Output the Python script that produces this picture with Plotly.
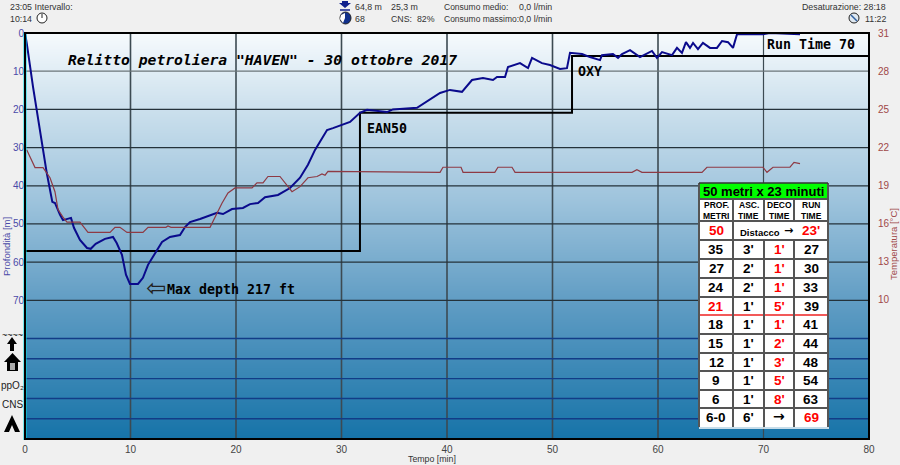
import plotly.graph_objects as go

# Profilo di profondita' (tempo in minuti, profondita' in metri)
depth_time = [0, 0.16, 0.76, 1.42, 1.58, 2.06, 2.59, 2.84, 3.32, 3.6, 4.36, 4.64, 5.21, 5.88, 6.23, 6.7, 7.58, 8.34,
              8.69, 9.19, 9.57, 9.95, 10.71, 11.18, 11.66, 12.32, 12.99, 13.74, 14.69, 15.17, 15.64, 16.59, 18.2,
              18.77, 19.62, 20.66, 21.33, 22.09, 22.75, 23.98, 25.12, 26.07, 26.82, 27.49, 28.63, 29.19, 30.81,
              31.75, 32.42, 34.31, 34.88, 37.16, 38.39, 39.34, 40.28, 41.42, 42.37, 43.41, 44.36, 44.74, 45.5,
              45.78, 46.92, 47.68, 48.06, 49, 49.76, 50.71, 51.37, 51.66, 52.8, 53.55, 54.5, 54.69, 55.73, 56.21,
              56.59, 57.35, 58.29, 59.43, 59.9, 60.38, 61.33, 61.8, 62.27, 62.65, 63.03, 63.32, 63.79, 64.26,
              64.93, 65.59, 66.07, 66.64, 67.11, 67.49, 68.72, 69.95, 70.62, 73.46]
depth_m = [0, 2.6, 14.1, 25.4, 28.8, 36.6, 44.2, 44.5, 47.6, 49, 48.4, 51, 54.2, 56.3, 56.5, 55.2, 53.9, 53.4,
           55, 58.1, 63.3, 65.7, 65.7, 64.1, 60.7, 57.6, 54.7, 53.4, 52.9, 50.8, 49.5, 48.7, 47.1,
           47.4, 46.1, 45.8, 44.8, 44.5, 43, 42.4, 40.6, 37.9, 34.5, 30.6, 25.4, 24.9, 23.3,
           20.9, 20.1, 20.7, 20, 19.6, 17.5, 15.7, 14.9, 15.4, 12.3, 11.8, 12.3, 11.5, 11.5,
           8.9, 7.9, 9.2, 6.5, 7.9, 8.4, 9.4, 9.2, 5.2, 5.5, 6.3, 7.1, 5.8, 5.5, 6.5,
           5.5, 4.5, 6.3, 4.7, 6.5, 5, 5.8, 3.9, 5.2, 2.4, 3.9, 2.6, 4.2, 2.6,
           3.9, 3.9, 2.1, 2.4, 3.9, 0.3, 0.3, 0.3, 0, 0.3]

# Temperatura
temp_time = [0.16, 0.47, 0.95, 1.71, 2.37, 2.84, 3.13, 3.6, 3.98, 5.21, 5.97, 8.06, 8.53, 9, 9.67, 11.18, 11.66,
             13.36, 13.55, 13.84, 17.54, 18.67, 19.24, 19.91, 21.52, 21.99, 22.56, 23.03, 24.17, 25.31, 26.07,
             26.82, 27.68, 28.15, 28.44, 28.72, 39.34, 39.62, 41.33, 41.52, 44.53, 44.83, 46.16, 46.45, 57.54,
             58, 58.48, 64.17, 64.64, 69.95, 70.33, 70.9, 72.51, 72.89, 73.46]
temp_c = [21.8, 21.3, 20.4, 20.4, 19.6, 18.5, 17.1, 16.5, 16.1, 16.1, 15.3, 15.3, 15.7, 15.7, 15.3, 15.3, 15.7,
          15.7, 15.8, 15.7, 15.7, 17.6, 18.4, 18.8, 18.8, 19.2, 19.2, 19.7, 19.7, 18.5, 18.9,
          19.6, 19.7, 19.9, 19.8, 20.1, 20.03, 20.43, 20.43, 20.03, 20.03, 20.43, 20.43, 20.03, 20.03,
          20.24, 20.03, 20.03, 20.43, 20.43, 20.03, 20.43, 20.43, 20.81, 20.71]

# Profilo pianificato (linea nera a gradini)
plan_time = [0, 31.75, 31.75, 51.85, 51.85, 80]
plan_depth = [57.1, 57.1, 20.9, 20.9, 6, 6]

x_ticks = [0, 10, 20, 30, 40, 50, 60, 70, 80]
depth_ticks = [0, 10, 20, 30, 40, 50, 60, 70]
temp_ticks = [31, 28, 25, 22, 19, 16, 13, 10]
panel_lines = [80, 85.3, 90.5, 95.7, 101]

# Sfondo sfumato
bg_depth = [0, 18, 44, 70, 106.3]
bg_colors = ["#f6fafd", "#cfe2ee", "#9dc3dc", "#619dc4", "#1673a8"]

# Tabella deco
table_title = "50 metri x 23 minuti"
table_head1 = ["PROF.", "ASC.", "DECO", "RUN"]
table_head2 = ["METRI", "TIME", "TIME", "TIME"]
table_depth = ["35", "27", "24", "21", "18", "15", "12", "9", "6", "6-0"]
table_asc = ["3'", "2'", "2'", "1'", "1'", "1'", "1'", "1'", "1'", "6'"]
table_deco = ["1'", "1'", "1'", "5'", "1'", "2'", "3'", "5'", "8'", "→"]
table_run = ["27", "30", "33", "39", "41", "44", "48", "54", "63", "69"]


# pixel della finestra -> coordinate paper
def px(x):
    return (x - 25) / 844


def py(y):
    return 1 - (y - 33) / 406


def label(x, y, text, size=8.8, color="#333333", family="Liberation Sans", anchor="left", **kw):
    # le annotazioni hanno 2px di padding
    shift = {"left": -2, "right": 2, "center": 0}[anchor]
    return dict(xref="paper", yref="paper", x=px(x + shift), y=py(y + 1), text=text, showarrow=False, xanchor=anchor,
                yanchor="middle", font=dict(family=family, size=size, color=color), **kw)


def line(x0, y0, x1, y1, color="black", width=1):
    return dict(type="line", xref="paper", yref="paper", x0=px(x0), y0=py(y0), x1=px(x1), y1=py(y1),
                line=dict(color=color, width=width))


def rect(x0, y0, x1, y1, fill, color=None, width=0):
    return dict(type="rect", xref="paper", yref="paper", x0=px(x0), y0=py(y0), x1=px(x1), y1=py(y1),
                fillcolor=fill, line=dict(color=color, width=width))


def path(d, fill, color="black", width=0):
    # d: lista di punti in pixel
    s = "M" + " L".join(f"{px(a):.5f},{py(b):.5f}" for a, b in d) + " Z"
    return dict(type="path", xref="paper", yref="paper", path=s, fillcolor=fill, line=dict(color=color, width=width))


fig = go.Figure()

stops = [(d / bg_depth[-1], c) for d, c in zip(bg_depth, bg_colors)]
fig.add_trace(go.Heatmap(x=[0, 80], y=bg_depth, z=[[d, d] for d in bg_depth], colorscale=stops, zsmooth="best",
                         showscale=False, hoverinfo="skip"))

# griglia sopra lo sfondo, sotto le curve
for t in x_ticks[1:-1]:
    fig.add_trace(go.Scatter(x=[t, t], y=[0, bg_depth[-1]], mode="lines", hoverinfo="skip",
                             line=dict(color="#3c4a52", width=1.6 if t < 70 else 1.2)))
for d in depth_ticks[1:]:
    fig.add_trace(go.Scatter(x=[0, 80], y=[d, d], mode="lines", hoverinfo="skip",
                             line=dict(color="#6b7478" if d == 10 else "#24323a", width=1.2)))
for d in panel_lines:
    fig.add_trace(go.Scatter(x=[0, 80], y=[d, d], mode="lines", hoverinfo="skip",
                             line=dict(color="#123c86", width=1.4)))

fig.add_trace(go.Scatter(x=plan_time, y=plan_depth, mode="lines", line=dict(color="black", width=2)))
fig.add_trace(go.Scatter(x=temp_time, y=temp_c, mode="lines", yaxis="y2", line=dict(color="#8e3a44", width=1.2)))
fig.add_trace(go.Scatter(x=depth_time, y=depth_m, mode="lines", line=dict(color="#0a0a8c", width=2)))

shapes = [
    line(25, 33, 25, 440, "#00e0e8", 3),
    rect(25, 33, 869, 439, "rgba(0,0,0,0)", "black", 2),
]

# icone in alto
shapes += [
    dict(type="circle", xref="paper", yref="paper", x0=px(37), y0=py(13), x1=px(47), y1=py(23),
         fillcolor="white", line=dict(color="#222222", width=1)),
    line(42, 18, 42, 14, "#222222", 1),
    path([(342, 1), (348, 1), (348, 3), (351, 3), (345, 8), (339, 3), (342, 3)], "#10208c"),
    line(340, 10, 350, 10, "#10208c", 1.5),
    dict(type="circle", xref="paper", yref="paper", x0=px(340), y0=py(12), x1=px(351), y1=py(24),
         fillcolor="#10308c", line=dict(color="#222222", width=1)),
    path([(345, 18), (345, 13), (341, 15), (340, 19), (343, 23)], "white"),
    dict(type="circle", xref="paper", yref="paper", x0=px(849), y0=py(13), x1=px(859), y1=py(23),
         fillcolor="#dfe8f0", line=dict(color="#222222", width=1)),
    line(851, 15, 857, 21, "#3060a0", 1.5),
]

# icone in basso a sinistra
shapes += [
    path([(7, 344), (12, 337), (17, 344)], "black"),
    rect(10, 344, 14, 351, "black"),
    path([(4, 362), (12.5, 353), (21, 362)], "black"),
    rect(7, 362, 18, 371, "black"),
    rect(10, 363, 15, 370, "#aaaaaa"),
    path([(4, 432), (12, 415), (20, 432), (15, 432), (12, 425), (9, 432)], "black"),
]

annotations = [
    label(10, 6, "23:05 Intervallo:"),
    label(10, 18, "10:14"),
    label(355, 6, "64,8 m"),
    label(355, 18, "68"),
    label(391, 6, "25,3 m"),
    label(391, 18, "CNS:  82%"),
    label(444, 6, "Consumo medio:", size=8.5),
    label(444, 18, "Consumo massimo:", size=8.5),
    label(519, 6, "0,0 l/min"),
    label(519, 18, "0,0 l/min"),
    label(886, 6, "Desaturazione: 28:18", anchor="right"),
    label(886, 18, "11:22", anchor="right"),
    label(6, 246, "Profondità [m]", size=9.5, color="#4a4aa8", anchor="center", textangle=-90),
    label(893, 243, "Temperatura [°C]", size=9.5, color="#a04848", anchor="center", textangle=-90),
    label(432, 458, "Tempo [min]", anchor="center"),
    label(12, 334, "~~~~", size=9, color="black", anchor="center"),
    label(12, 384, "ppO₂", size=10, color="#222222", anchor="center"),
    label(12, 403, "CNS", size=10, color="#222222", anchor="center"),
]

mono = "DejaVu Sans Mono"
annotations += [
    label(68, 59, '<b><i>Relitto petroliera "HAVEN" - 30 ottobre 2017</i></b>', size=14.7, color="black", family=mono),
    label(767, 44, "<b>Run Time 70</b>", size=13.3, color="black", family=mono),
    label(367, 127, "<b>EAN50</b>", size=13.3, color="black", family=mono),
    label(578, 70, "<b>OXY</b>", size=13.3, color="black", family=mono),
    label(167, 288, "<b>Max depth 217 ft</b>", size=13.3, color="black", family=mono),
    label(156, 287, "⇦", size=24, color="#222222", family="DejaVu Sans", anchor="center"),
]

# tabella: griglia e testi
col_x = [699, 733, 764, 794, 828]
col_c = [716, 748.5, 779, 811]
row_y = [183, 199, 221, 240, 259, 278, 297, 315, 334, 353, 371, 390, 408, 427]
shapes.append(rect(col_x[0], row_y[0], col_x[-1], row_y[-1], "white"))
shapes.append(rect(col_x[0], row_y[0], col_x[-1], row_y[1], "#00ff00"))
for y in row_y[1:-1]:
    red = y == 315
    shapes.append(line(col_x[0], y, col_x[-1], y, "#ee2222" if red else "#555555", 1.4 if red else 2))
for i, x in enumerate(col_x):
    top = row_y[1]
    if i in (2, 3):
        # la riga "Distacco" unisce le colonne centrali
        shapes.append(line(x, top, x, row_y[2], "#555555", 2))
        shapes.append(line(x, row_y[3], x, row_y[-1], "#555555", 2))
    else:
        shapes.append(line(x, row_y[0] if i in (0, 4) else top, x, row_y[-1], "#555555", 2))
shapes.append(line(col_x[0], row_y[0], col_x[-1], row_y[0], "#333333", 1.5))
shapes.append(line(col_x[0], row_y[-1] + 1, col_x[-1] + 1, row_y[-1] + 1, "white", 1.5))

tab = "Liberation Sans"
annotations.append(label(763.5, 190.5, f"<b>{table_title}</b>", size=13, color="black", family=tab, anchor="center"))
for c, h1, h2 in zip(col_c, table_head1, table_head2):
    annotations.append(label(c, 204, f"<b>{h1}</b>", size=8.5, color="black", family=tab, anchor="center"))
    annotations.append(label(c, 215, f"<b>{h2}</b>", size=8.5, color="black", family=tab, anchor="center"))
annotations.append(label(716, 230, "<b>50</b>", size=13.5, color="#ff0000", family=tab, anchor="center"))
annotations.append(label(760, 231, "<b>Distacco</b>", size=9.5, color="black", family=tab, anchor="center"))
annotations.append(label(788, 230, "<b>→</b>", size=11, color="black", family="DejaVu Sans", anchor="center"))
annotations.append(label(811, 230, "<b>23'</b>", size=13.5, color="#ff0000", family=tab, anchor="center"))
for i in range(len(table_depth)):
    yc = (row_y[i + 3] + row_y[i + 4]) / 2 - 1
    red_depth = table_depth[i] == "21"
    red_run = table_run[i] == "69"
    arrow = table_deco[i] == "→"
    annotations.append(label(col_c[0], yc, f"<b>{table_depth[i]}</b>", size=13.5,
                             color="#ff0000" if red_depth else "black", family=tab, anchor="center"))
    annotations.append(label(col_c[1], yc, f"<b>{table_asc[i]}</b>", size=13.5, color="black", family=tab, anchor="center"))
    annotations.append(label(col_c[2], yc - (2 if arrow else 0), f"<b>{table_deco[i]}</b>", size=14 if arrow else 13.5,
                             color="black" if arrow else "#ff0000", family="DejaVu Sans" if arrow else tab,
                             anchor="center"))
    annotations.append(label(col_c[3], yc, f"<b>{table_run[i]}</b>", size=13.5,
                             color="#ff0000" if red_run else "black", family=tab, anchor="center"))

fig.update_layout(
    width=900,
    height=465,
    margin=dict(l=25, r=31, t=33, b=26, autoexpand=False),
    paper_bgcolor="#f0f0f0",
    plot_bgcolor="#f0f0f0",
    showlegend=False,
    shapes=shapes,
    annotations=annotations,
    xaxis=dict(range=[0, 80], tickvals=x_ticks, showgrid=False, zeroline=False, ticks="", ticklabelstandoff=3,
               automargin=False, tickfont=dict(family="Liberation Sans", size=10, color="#444444")),
    yaxis=dict(range=[106.3, 0], tickvals=depth_ticks, showgrid=False, zeroline=False, ticks="", automargin=False,
               tickfont=dict(family="Liberation Sans", size=10, color="#4a4aa8")),
    yaxis2=dict(range=[-0.97, 31], overlaying="y", side="right", tickvals=temp_ticks, showgrid=False, zeroline=False,
                ticks="", ticklabelstandoff=8, automargin=False,
                tickfont=dict(family="Liberation Sans", size=10, color="#a04848")),
)

fig.write_html("out.html", config=dict(displayModeBar=False),
               post_script="document.body.style.margin='0';document.body.style.overflow='hidden';")
